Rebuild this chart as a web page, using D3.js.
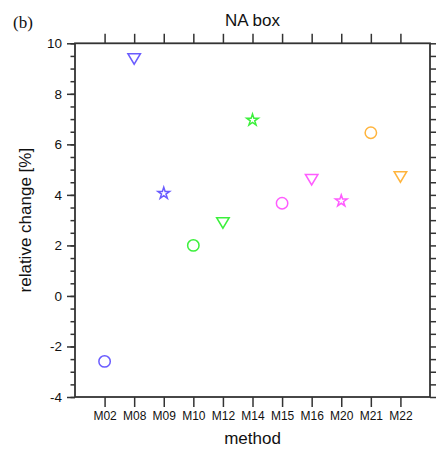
<!DOCTYPE html>
<html>
<head>
<meta charset="utf-8">
<script src="https://cdn.jsdelivr.net/npm/d3@7"></script>
<style>
  body { margin: 0; background: #fff; }
  svg { display: block; }
</style>
</head>
<body>
<svg id="chart" width="436" height="449"></svg>
<script>
// ---- data ----
const methods = ["M02","M08","M09","M10","M12","M14","M15","M16","M20","M21","M22"];
const values  = [-2.59, 9.38, 4.06, 2.0, 2.89, 6.96, 3.67, 4.6, 3.76, 6.46, 4.71];
const shapes  = ["circle","triangle","star","circle","triangle","star","circle","triangle","star","circle","triangle"];
const colors  = ["#6a5cff","#6a5cff","#6a5cff","#3cf03c","#3cf03c","#3cf03c","#ff5cff","#ff5cff","#ff5cff","#ffb43c","#ffb43c"];
const yMajorTicks = [-4,-2,0,2,4,6,8,10];
const yMinorTicks = d3.range(-4, 10.001, 0.5);
const yDomain = [-4, 10];
const titleText = "NA box";
const panelText = "(b)";
const xTitle = "method";
const yTitle = "relative change [%]";

// ---- layout ----
const L = 75, R = 430, T = 43.3, B = 397;
const svg = d3.select("#chart");
const x = d3.scalePoint().domain(methods).range([L, R]).padding(1);
const y = d3.scaleLinear().domain(yDomain).range([B, T]);

const axisColor = "#333";
function styleAxis(g) {
  g.select(".domain").remove();
  g.selectAll(".tick line").attr("stroke", axisColor).attr("stroke-width", 1.5);
  g.selectAll(".tick text").attr("fill", "#111");
}

// left minor
svg.append("g").attr("transform", `translate(${L},0)`)
  .call(d3.axisLeft(y).tickValues(yMinorTicks).tickSize(4.5).tickFormat(""))
  .call(styleAxis);
// left major
svg.append("g").attr("transform", `translate(${L},0)`)
  .call(d3.axisLeft(y).tickValues(yMajorTicks).tickSize(8).tickPadding(5).tickFormat(d => String(d)))
  .call(styleAxis)
  .call(g => g.selectAll(".tick text").attr("font-family", "Liberation Sans, Arial, sans-serif").attr("font-size", 13.5));
// right
svg.append("g").attr("transform", `translate(${R},0)`)
  .call(d3.axisRight(y).tickValues(yMinorTicks).tickSize(6).tickFormat(""))
  .call(styleAxis);
// top
svg.append("g").attr("transform", `translate(0,${T})`)
  .call(d3.axisTop(x).tickSize(9.5).tickFormat(""))
  .call(styleAxis);
// bottom
svg.append("g").attr("transform", `translate(0,${B})`)
  .call(d3.axisBottom(x).tickSize(10).tickPadding(4.5))
  .call(styleAxis)
  .call(g => g.selectAll(".tick text").attr("font-family", "Liberation Sans, Arial, sans-serif").attr("font-size", 12));

// frame
svg.append("rect").attr("x", L).attr("y", T).attr("width", R - L).attr("height", B - T)
  .attr("fill", "none").attr("stroke", axisColor).attr("stroke-width", 1.8);

// markers
const triDown = {
  draw(ctx, size) {
    const hw = Math.sqrt(size) * 0.74, hh = hw * 0.84;
    ctx.moveTo(-hw, -hh); ctx.lineTo(hw, -hh); ctx.lineTo(0, hh); ctx.closePath();
  }
};
const symType = { circle: d3.symbolCircle, triangle: triDown, star: d3.symbolStar };
const symSize = { circle: Math.PI * 5.7 * 5.7, triangle: 72, star: 42 };

svg.append("g").selectAll("path").data(methods).join("path")
  .attr("transform", (d, i) => `translate(${x(d)},${y(values[i])})`)
  .attr("d", (d, i) => d3.symbol().type(symType[shapes[i]]).size(symSize[shapes[i]])())
  .attr("fill", "none")
  .attr("stroke", (d, i) => colors[i])
  .attr("stroke-width", 1.5)
  .attr("stroke-linejoin", "miter");

// texts
svg.append("text").attr("x", (L + R) / 2).attr("y", 26).attr("text-anchor", "middle")
  .attr("font-family", "Liberation Sans, Arial, sans-serif").attr("font-size", 17).attr("fill", "#111")
  .text(titleText);
svg.append("text").attr("x", 13).attr("y", 28)
  .attr("font-family", "Liberation Serif, Times New Roman, serif").attr("font-size", 17).attr("fill", "#111")
  .text(panelText);
svg.append("text").attr("x", (L + R) / 2).attr("y", 444).attr("text-anchor", "middle")
  .attr("font-family", "Liberation Sans, Arial, sans-serif").attr("font-size", 17).attr("fill", "#111")
  .text(xTitle);
svg.append("text").attr("transform", `translate(31,${(T + B) / 2}) rotate(-90)`).attr("text-anchor", "middle")
  .attr("font-family", "Liberation Sans, Arial, sans-serif").attr("font-size", 17).attr("fill", "#111")
  .text(yTitle);
</script>
</body>
</html>
